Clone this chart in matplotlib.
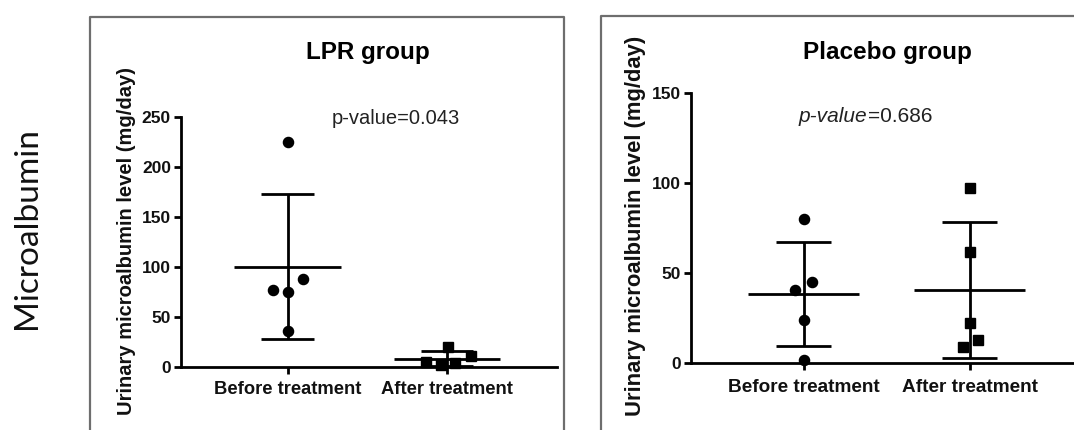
import matplotlib
matplotlib.use('Agg')
import matplotlib.pyplot as plt
from matplotlib.lines import Line2D
import numpy as np

plt.rcParams['font.family'] = ['Liberation Sans', 'DejaVu Sans']

# ------------------------------------------------------------------ #
# Data (mg/day)
# ------------------------------------------------------------------ #
categories = ['Before treatment', 'After treatment']

lpr_before = [225, 76.7, 74.4, 87.7, 36]
lpr_after = [20, 4.7, 2, 3.4, 10.7]
placebo_before = [79.8, 40.5, 44.8, 23.8, 1.5]
placebo_after = [97.4, 61.5, 21.9, 12.6, 8.9]

# horizontal scatter of the points around each category (category units)
lpr_before_jit = [0, -0.094, 0, 0.094, 0]
lpr_after_jit = [0.006, -0.13, -0.04, 0.048, 0.15]
placebo_before_jit = [0, -0.05, 0.05, 0, 0]
placebo_after_jit = [0, 0, 0, 0.054, -0.041]

lpr_yticks = [0, 50, 100, 150, 200, 250]
placebo_yticks = [0, 50, 100, 150]

lpr_p = 'p-value=0.043'
placebo_p = '=0.686'
ylabel = 'Urinary microalbumin level (mg/day)'

W, H = 1074, 430
LW = 2.0
fig = plt.figure(figsize=(W / 100, H / 100), dpi=100)


def px(x0, y0, x1, y1):
    """pixel box (top-left origin) -> figure rect"""
    return [x0 / W, 1 - y1 / H, (x1 - x0) / W, (y1 - y0) / H]


def draw_group(ax, before, after, jb, ja, marker_b, marker_a):
    for i, (vals, jit, mk) in enumerate([(before, jb, marker_b), (after, ja, marker_a)]):
        vals = np.asarray(vals, dtype=float)
        m, sd = vals.mean(), vals.std(ddof=1)
        ax.plot(i + np.asarray(jit), vals, linestyle='none', marker=mk,
                markersize=7.3, color='black', clip_on=False, zorder=3)
        ax.hlines(m, i - 0.335, i + 0.335, color='black', lw=LW, zorder=2)
        ax.vlines(i, max(m - sd, 0), m + sd, color='black', lw=LW, zorder=2)
        ax.hlines([m - sd, m + sd], i - 0.165, i + 0.165, color='black', lw=LW, zorder=2)


def style_axes(ax, yticks, xlim, xfs, yfs, xpad):
    ax.set_xlim(*xlim)
    ax.set_ylim(yticks[0], yticks[-1])
    ax.set_yticks(yticks)
    ax.set_xticks([0, 1])
    ax.set_xticklabels(categories)
    for s in ['top', 'right']:
        ax.spines[s].set_visible(False)
    for s in ['left', 'bottom']:
        ax.spines[s].set_linewidth(LW)
    ax.tick_params(axis='both', width=LW, length=5, pad=2)
    ax.tick_params(axis='x', labelsize=xfs, pad=xpad)
    ax.tick_params(axis='y', labelsize=yfs)
    for lab in ax.get_xticklabels() + ax.get_yticklabels():
        lab.set_fontweight('bold')
        lab.set_color('#111111')
    ax.patch.set_alpha(0)


# ------------------------------------------------------------------ #
# LPR group
# ------------------------------------------------------------------ #
ax1 = fig.add_axes(px(180.7, 116.7, 557, 366.7))
draw_group(ax1, lpr_before, lpr_after, lpr_before_jit, lpr_after_jit, 'o', 's')
style_axes(ax1, lpr_yticks, (-0.672, 1.69), 13.2, 12.5, 5)
fig.text(368 / W, 1 - 52 / H, 'LPR group', ha='center', va='center',
         fontsize=17.5, fontweight='bold')
fig.text(396 / W, 1 - 118 / H, lpr_p, ha='center', va='center', fontsize=14.5,
         color='#222222')
fig.text(126 / W, 1 - 241 / H, ylabel, rotation=90, ha='center', va='center',
         fontsize=14.5, fontweight='bold', color='#111111')

# ------------------------------------------------------------------ #
# Placebo group
# ------------------------------------------------------------------ #
ax2 = fig.add_axes(px(691, 93.3, 1074, 362.7))
draw_group(ax2, placebo_before, placebo_after, placebo_before_jit, placebo_after_jit, 'o', 's')
style_axes(ax2, placebo_yticks, (-0.68, 1.63), 13.7, 12.5, 6.5)
fig.text(887 / W, 1 - 52 / H, 'Placebo group', ha='center', va='center',
         fontsize=17.5, fontweight='bold')
t1 = fig.text(799 / W, 1 - 117 / H, 'p-value', ha='left', va='center',
              fontsize=15, style='italic', color='#222222')
fig.canvas.draw()
bb = t1.get_window_extent()
fig.text(bb.x1 / W, 1 - 117 / H, placebo_p, ha='left', va='center', fontsize=15,
         color='#222222')
fig.text(635 / W, 1 - 226 / H, ylabel, rotation=90, ha='center', va='center',
         fontsize=15.8, fontweight='bold', color='#111111')

# side label
fig.text(26.7 / W, 1 - 228 / H, 'Microalbumin', rotation=90, ha='center', va='center',
         fontsize=24, family=['Lato', 'DejaVu Sans'], color='#111111')

# grey frames around each panel
frame = dict(color='#6e6e6e', lw=1.6, transform=fig.transFigure)
lx0, lx1, ltop = 89.5 / W, 564 / W, 1 - 16.7 / H
fig.add_artist(Line2D([lx0, lx0, lx1, lx1], [-0.02, ltop, ltop, -0.02], **frame))
rx0, rtop = 601 / W, 1 - 15.7 / H
fig.add_artist(Line2D([rx0, rx0, 1.02], [-0.02, rtop, rtop], **frame))

fig.savefig('out.png', dpi=100, facecolor='white')
